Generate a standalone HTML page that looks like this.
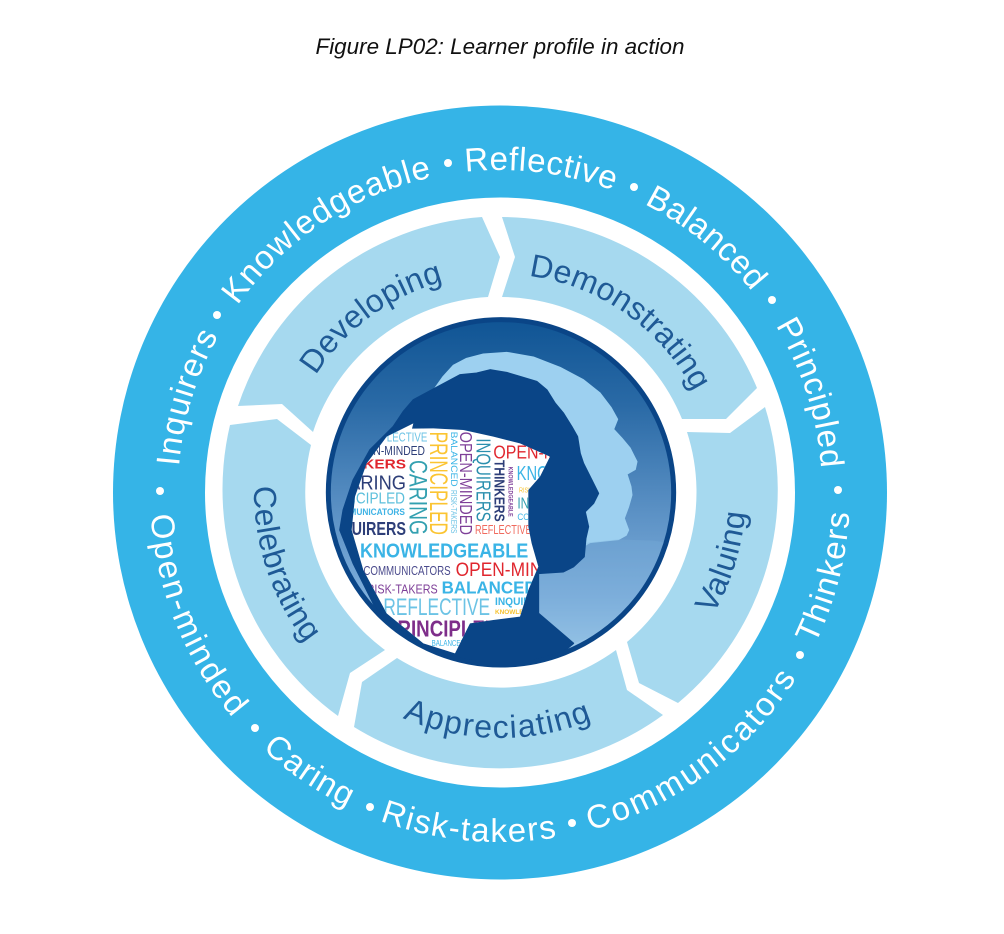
<!DOCTYPE html>
<html lang="en">
<head>
<meta charset="utf-8">
<title>Figure LP02: Learner profile in action</title>
<style>
html,body{margin:0;padding:0;background:#fff;}
svg{display:block;}
text{font-family:"Liberation Sans",sans-serif;}
.o{font-size:33px;fill:#fff;text-anchor:middle;}
.i{font-size:32px;fill:#1f5a96;text-anchor:middle;}
</style>
</head>
<body>
<svg width="1004" height="934" viewBox="0 0 1004 934" xmlns="http://www.w3.org/2000/svg">
<defs>
<path id="ot" d="M500,814 A322,322 0 1 1 500,170 A322,322 0 1 1 500,814"/>
<path id="ob" d="M500,142 A350,350 0 1 0 500,842 A350,350 0 1 0 500,142"/>
<path id="it" d="M500,710 A218,218 0 1 1 500,274 A218,218 0 1 1 500,710"/>
<path id="ib" d="M500,246 A246,246 0 1 0 500,738 A246,246 0 1 0 500,246"/>
<linearGradient id="bg" x1="0" y1="0" x2="0" y2="1">
<stop offset="0" stop-color="#0f5494"/>
<stop offset=".25" stop-color="#2a6aa6"/>
<stop offset=".55" stop-color="#5a90c4"/>
<stop offset=".8" stop-color="#7eaedb"/>
<stop offset="1" stop-color="#a8d2ee"/>
</linearGradient>
<clipPath id="disc"><circle cx="543" cy="487" r="522"/></clipPath>
<clipPath id="wh"><path d="M280,280 L276,296 L340,295 L430,300 L520,320 L600,340 L690,380 L660,440 L625,480 L625,590 L635,640 L655,710 L625,780 L600,860 L520,870 L450,880 L405,970 L310,940 L200,850 L130,720 L95,600 L105,500 L140,400 L200,320 Z"/></clipPath>
</defs>

<text x="500" y="54" font-size="22" font-style="italic" fill="#111" text-anchor="middle" textLength="369" lengthAdjust="spacingAndGlyphs">Figure LP02: Learner profile in action</text>

<circle cx="500" cy="492.5" r="387" fill="#35b4e7"/>
<circle cx="500" cy="492.5" r="295" fill="#fff"/>

<g fill="#a6d9ef">
<path d="M238,406 A277,277 0 0 1 482,217 L500,257 L488,297 A196,196 0 0 0 313,432 L282,404 Z"/>
<path d="M502,217 A277,277 0 0 1 757,388 L726,419 L682,419 A196,196 0 0 0 502,297 L515,257 Z"/>
<path d="M765,407 A277,277 0 0 1 678,703 L639,683 L627,642 A196,196 0 0 0 687,432 L730,433 Z"/>
<path d="M663,715 A277,277 0 0 1 354,727 L362,682 L397,658 A196,196 0 0 0 616,650 L627,690 Z"/>
<path d="M338,716 A280,280 0 0 1 230,425 L277,419 L311,445 A196,196 0 0 0 385,650 L350,673 Z"/>
</g>

<!-- outer ring words -->
<text class="o" letter-spacing="1.1"><textPath href="#ot" startOffset="29.69%">Inquirers</textPath></text>
<text class="o" letter-spacing="1"><textPath href="#ot" startOffset="40.74%">Knowledgeable</textPath></text>
<text class="o" letter-spacing=".6"><textPath href="#ot" startOffset="52.01%">Reflective</textPath></text>
<text class="o" letter-spacing=".3"><textPath href="#ot" startOffset="60.85%">Balanced</textPath></text>
<text class="o" letter-spacing=".7"><textPath href="#ot" startOffset="70.1%">Principled</textPath></text>
<text class="o" letter-spacing="2.2"><textPath href="#ob" startOffset="31.15%">Open-minded</textPath></text>
<text class="o" letter-spacing="1.2"><textPath href="#ob" startOffset="40.49%">Caring</textPath></text>
<text class="o" letter-spacing="1.5"><textPath href="#ob" startOffset="48.54%">Risk-takers</textPath></text>
<text class="o" letter-spacing="2.6"><textPath href="#ob" startOffset="60.17%">Communicators</textPath></text>
<text class="o" letter-spacing="1.5"><textPath href="#ob" startOffset="70.97%">Thinkers</textPath></text>
<g fill="#fff">
<circle cx="160" cy="491" r="4"/><circle cx="217" cy="315" r="4"/><circle cx="448" cy="163" r="4"/><circle cx="634" cy="187" r="4"/><circle cx="772" cy="300" r="4"/><circle cx="838" cy="490" r="4"/><circle cx="255" cy="728" r="4"/><circle cx="370" cy="807" r="4"/><circle cx="572" cy="823" r="4"/><circle cx="800" cy="655" r="4"/>
</g>

<!-- segment labels -->
<text class="i" letter-spacing=".2"><textPath href="#it" startOffset="39.9%">Developing</textPath></text>
<text class="i" letter-spacing=".1"><textPath href="#it" startOffset="59.75%">Demonstrating</textPath></text>
<text class="i" letter-spacing=".6"><textPath href="#ib" startOffset="70.2%">Valuing</textPath></text>
<text class="i" letter-spacing="1.5"><textPath href="#ib" startOffset="49.86%">Appreciating</textPath></text>
<text class="i" letter-spacing=".5"><textPath href="#ib" startOffset="30.1%">Celebrating</textPath></text>

<!-- centre disc, drawn in 3x coordinates -->
<g transform="translate(320,330) scale(.33333)">
<circle cx="543" cy="487" r="522" fill="url(#bg)"/>
<g clip-path="url(#disc)" stroke-linejoin="round">
<path fill="#9dd0f0" stroke="#9dd0f0" stroke-width="5" d="M345,175 L370,140 L400,107 L440,86 L490,73 L560,68 L640,82 L720,113 L790,150 L840,190 L872,232 L892,268 L880,298 L905,325 L930,355 L950,395 L945,418 L920,432 L932,470 L935,495 L925,530 L912,565 L925,600 L918,615 L895,628 L810,637 L700,700 L500,500 Z"/>
<path fill="#7aaedc" d="M655,730 L790,640 L810,637 L895,628 L1000,632 L1060,640 L1060,800 L1000,850 L760,940 L655,850 Z" opacity=".3"/>
<path fill="#0a4587" stroke="#0a4587" stroke-width="5" d="M220,290 L250,245 L280,210 L345,175 L420,135 L470,130 L510,120 L560,128 L600,140 L650,155 L680,180 L705,220 L730,250 L755,290 L772,320 L780,370 L790,400 L815,450 L835,490 L820,520 L795,545 L805,590 L797,625 L792,680 L760,710 L730,725 L655,730 L655,850 L690,880 L760,940 L700,990 L640,1020 L500,1020 L400,990 L200,900 L100,700 L60,600 L70,540 L100,450 L150,360 Z"/>
<path fill="#fff" d="M280,280 L276,296 L340,295 L430,300 L520,320 L600,340 L690,380 L660,440 L625,480 L625,590 L635,640 L655,710 L625,780 L600,860 L520,870 L450,880 L405,970 L310,940 L200,850 L130,720 L95,600 L105,500 L140,400 L200,320 Z"/>
<g clip-path="url(#wh)">
<text x="142" y="335" font-size="40" fill="#6cc3e5" textLength="180" lengthAdjust="spacingAndGlyphs">REFLECTIVE</text>
<text x="95" y="375" font-size="38" fill="#2d3e78" textLength="220" lengthAdjust="spacingAndGlyphs">OPEN-MINDED</text>
<text x="22" y="415" font-size="40" font-weight="bold" fill="#e0262e" textLength="236" lengthAdjust="spacingAndGlyphs">THINKERS</text>
<text x="45" y="478" font-size="62" fill="#2d3e78" textLength="213" lengthAdjust="spacingAndGlyphs">CARING</text>
<text x="10" y="520" font-size="46" fill="#5bbfdb" textLength="245" lengthAdjust="spacingAndGlyphs">PRINCIPLED</text>
<text x="30" y="555" font-size="28" font-weight="bold" fill="#3fb3e5" textLength="225" lengthAdjust="spacingAndGlyphs">COMMUNICATORS</text>
<text x="18" y="615" font-size="56" font-weight="bold" fill="#2d3e78" textLength="240" lengthAdjust="spacingAndGlyphs">INQUIRERS</text>
<text x="120" y="682" font-size="62" font-weight="bold" fill="#3ab4e6" textLength="505" lengthAdjust="spacingAndGlyphs">KNOWLEDGEABLE</text>
<text x="130" y="735" font-size="38" fill="#4a4a8c" textLength="262" lengthAdjust="spacingAndGlyphs">COMMUNICATORS</text>
<text x="407" y="738" font-size="58" fill="#e0262e" textLength="370" lengthAdjust="spacingAndGlyphs">OPEN-MINDED</text>
<text x="140" y="790" font-size="40" fill="#7e3f98" textLength="213" lengthAdjust="spacingAndGlyphs">RISK-TAKERS</text>
<text x="365" y="790" font-size="52" font-weight="bold" fill="#3ab4e6" textLength="285" lengthAdjust="spacingAndGlyphs">BALANCED</text>
<text x="190" y="855" font-size="72" fill="#6cc3e5" textLength="320" lengthAdjust="spacingAndGlyphs">REFLECTIVE</text>
<text x="525" y="825" font-size="34" font-weight="bold" fill="#3ab4e6" textLength="170" lengthAdjust="spacingAndGlyphs">INQUIRERS</text>
<text x="525" y="852" font-size="18" font-weight="bold" fill="#f7c331" textLength="180" lengthAdjust="spacingAndGlyphs">KNOWLEDGEABLE</text>
<text x="195" y="920" font-size="68" font-weight="bold" fill="#7e2e8a" textLength="340" lengthAdjust="spacingAndGlyphs">PRINCIPLED</text>
<text x="335" y="948" font-size="26" fill="#3ab4e6" textLength="100" lengthAdjust="spacingAndGlyphs">BALANCED</text>
<text x="520" y="385" font-size="55" fill="#e0262e" textLength="340" lengthAdjust="spacingAndGlyphs">OPEN-MINDED</text>
<text x="590" y="450" font-size="62" fill="#3ab4e6" textLength="400" lengthAdjust="spacingAndGlyphs">KNOWLEDGEABLE</text>
<text x="597" y="487" font-size="22" fill="#f7c331" textLength="110" lengthAdjust="spacingAndGlyphs">RISK-TAKERS</text>
<text x="592" y="535" font-size="48" fill="#33a0b0" textLength="200" lengthAdjust="spacingAndGlyphs">INQUIRERS</text>
<text x="592" y="570" font-size="28" fill="#3ab4e6" textLength="220" lengthAdjust="spacingAndGlyphs">COMMUNICATORS</text>
<text x="465" y="612" font-size="38" fill="#f06a5e" textLength="170" lengthAdjust="spacingAndGlyphs">REFLECTIVE</text>
<text transform="translate(330,305) rotate(90)" font-size="76" fill="#fbc431" textLength="310" lengthAdjust="spacingAndGlyphs">PRINCIPLED</text>
<text transform="translate(393,305) rotate(90)" font-size="28" fill="#3ab4e6" textLength="165" lengthAdjust="spacingAndGlyphs">BALANCED</text>
<text transform="translate(393,480) rotate(90)" font-size="25" fill="#6cc3e5" textLength="130" lengthAdjust="spacingAndGlyphs">RISK-TAKERS</text>
<text transform="translate(420,305) rotate(90)" font-size="54" fill="#7e3f98" textLength="310" lengthAdjust="spacingAndGlyphs">OPEN-MINDED</text>
<text transform="translate(470,325) rotate(90)" font-size="62" fill="#2b8fae" textLength="250" lengthAdjust="spacingAndGlyphs">INQUIRERS</text>
<text transform="translate(268,390) rotate(90)" font-size="75" fill="#33a0b0" textLength="225" lengthAdjust="spacingAndGlyphs">CARING</text>
<text transform="translate(523,390) rotate(90)" font-size="44" font-weight="bold" fill="#2d3e78" textLength="185" lengthAdjust="spacingAndGlyphs">THINKERS</text>
<text transform="translate(565,410) rotate(90)" font-size="20" font-weight="bold" fill="#7e3f98" textLength="150" lengthAdjust="spacingAndGlyphs">KNOWLEDGEABLE</text>
</g>
</g>
<circle cx="543" cy="487" r="518" fill="none" stroke="#0a4587" stroke-width="15"/>
</g>
</svg>
</body>
</html>
